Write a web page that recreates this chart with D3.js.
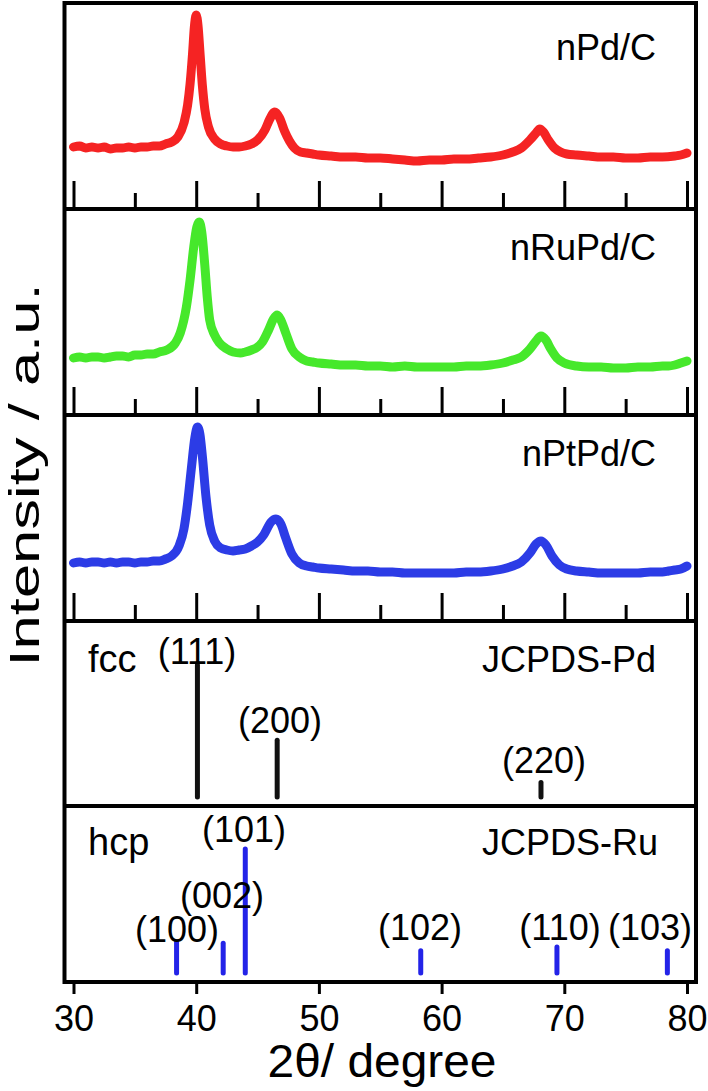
<!DOCTYPE html>
<html>
<head>
<meta charset="utf-8">
<script src="https://cdn.jsdelivr.net/npm/d3@7"></script>
<style>
  html, body { margin: 0; padding: 0; background: #fff; }
  text { font-family: "Liberation Sans", Arial, sans-serif; fill: #000; }
</style>
</head>
<body>
<svg id="chart" width="708" height="1091"></svg>
<script>
// measured XRD patterns, [2theta, intensity a.u.]
const nPdC = [
  [30,62],[30.5,63],[31,61],[31.5,62],[32,61],[32.5,62],[33,60],[33.5,61],[34,61],[34.5,62],
  [35,61],[35.5,62],[36,62],[36.5,63],[37,63],[37.5,65],[38,67],[38.5,72],[39,86],[39.3,104],
  [39.5,125],[39.7,155],[39.85,182],[40,194],[40.15,183],[40.3,158],[40.5,124],[40.7,100],[41,82],
  [41.5,70],[42,65],[42.5,63],[43,62],[43.5,62],[44,63],[44.5,65],[45,69],[45.6,79],[46,90],
  [46.4,97],[46.8,91],[47.2,78],[47.6,68],[48,61],[48.5,57],[49,56],[49.5,55],[50,54],[51,53],
  [52,52],[53,52],[54,51],[55,51],[56,50],[57,49],[58,48],[59,49],[60,49],[61,50],[62,50],
  [63,51],[64,52],[65,54],[65.8,57],[66.5,61],[67.2,69],[67.7,76],[68,80],[68.3,77],[68.7,69],
  [69.2,61],[69.7,57],[70.2,55],[71,54],[72,53],[73,52],[74,52],[75,51],[76,51],[77,52],
  [78,52],[79,53],[79.5,54],[80,56]
];
const nRuPdC = [
  [30,57],[30.5,58],[31,57],[31.5,58],[32,58],[32.5,57],[33,58],[33.5,59],[34,59],[34.5,58],
  [35,60],[35.5,60],[36,61],[36.5,61],[37,63],[37.6,65],[38.3,72],[38.7,82],[39.2,108],[39.5,135],
  [39.8,168],[40.05,188],[40.25,193],[40.45,183],[40.7,150],[40.9,118],[41.1,95],[41.5,80],[41.9,72],
  [42.5,66],[43,63],[43.6,62],[44,63],[44.5,65],[45,68],[45.4,73],[45.9,85],[46.3,96],[46.6,100],
  [46.9,95],[47.3,82],[47.8,66],[48.4,58],[49,54],[49.5,53],[50,52],[51,51],[52,50],[53,50],
  [54,49],[55,49],[56,48],[57,49],[58,48],[59,48],[60,48],[61,48],[62,49],[63,49],[64,50],
  [65,52],[65.8,55],[66.5,58],[67.2,66],[67.7,74],[68.1,79],[68.5,75],[68.9,66],[69.4,57],[70,52],
  [71,49],[72,48],[73,48],[74,47],[75,47],[76,48],[77,48],[78,49],[78.5,49],[79,50],
  [79.5,52],[80,54]
];
const nPtPdC = [
  [30,58],[30.5,59],[31,58],[31.5,59],[32,59],[32.5,58],[33,59],[33.5,58],[34,59],[34.5,59],
  [35,58],[35.5,59],[36,59],[36.5,60],[37,60],[37.5,62],[38,65],[38.6,75],[39,92],[39.3,118],
  [39.6,152],[39.9,184],[40.1,194],[40.3,187],[40.5,165],[40.8,124],[41.1,96],[41.5,80],[42,73],
  [42.5,71],[43,70],[43.5,71],[44,72],[44.5,75],[45,79],[45.5,86],[46.1,99],[46.5,102],[46.9,97],
  [47.3,83],[47.8,67],[48.4,58],[49,55],[49.5,54],[50,53],[51,52],[52,51],[53,50],[54,50],
  [55,49],[56,49],[57,48],[58,48],[59,48],[60,48],[61,48],[62,49],[63,49],[64,50],
  [65,52],[65.8,55],[66.5,59],[67.2,68],[67.7,77],[68.1,80],[68.5,76],[69,65],[69.6,56],[70.2,52],
  [71,50],[72,49],[73,48],[74,48],[75,48],[76,48],[77,49],[78,49],[78.5,50],[79,51],
  [79.5,52],[80,55]
];

// reference cards
const pdPeaks = [40.1, 46.6, 68.1];
const pdIntensity = [100, 43, 11];
const pdLabels = ["(111)", "(200)", "(220)"];

const ruPeaks = [38.4, 42.2, 44.0, 58.3, 69.4, 78.4];
const ruIntensity = [25, 24, 100, 18, 21, 18];
const ruLabels = ["(100)", "(002)", "(101)", "(102)", "(110)", "(103)"];

const seriesNames = ["nPd/C", "nRuPd/C", "nPtPd/C"];
const xTicks = [30, 40, 50, 60, 70, 80];
const xMinorTicks = [35, 45, 55, 65, 75];

const svg = d3.select("#chart");
const FONT = 36;

const LEFT = 64.5, RIGHT = 696;
const bounds = [3, 209, 415, 621, 806, 982];

const x = d3.scaleLinear().domain([30, 80]).range([73.5, 687]);

svg.append("rect").attr("width", 708).attr("height", 1091).attr("fill", "#fff");

// XRD traces
const traces = [
  { data: nPdC, color: "#f52323", top: bounds[0], bottom: bounds[1], labelY: 60 },
  { data: nRuPdC, color: "#46e82b", top: bounds[1], bottom: bounds[2], labelY: 260 },
  { data: nPtPdC, color: "#2c3ce6", top: bounds[2], bottom: bounds[3], labelY: 466 }
];

traces.forEach((t, i) => {
  const y = d3.scaleLinear().domain([0, 206]).range([t.bottom, t.top]);
  const line = d3.line()
    .x(d => x(d[0]))
    .y(d => y(d[1]))
    .curve(d3.curveMonotoneX);

  svg.append("path")
    .datum(t.data)
    .attr("d", line)
    .attr("fill", "none")
    .attr("stroke", t.color)
    .attr("stroke-width", 9)
    .attr("stroke-linejoin", "round")
    .attr("stroke-linecap", "round");

  svg.append("text")
    .attr("x", 656)
    .attr("y", t.labelY)
    .attr("text-anchor", "end")
    .attr("font-size", FONT)
    .text(seriesNames[i]);

  // inner ticks along each trace panel
  const major = d3.axisBottom(x).tickValues(xTicks).tickSize(-28).tickFormat("");
  const minor = d3.axisBottom(x).tickValues(xMinorTicks).tickSize(-16).tickFormat("");
  [major, minor].forEach(ax => {
    const g = svg.append("g")
      .attr("transform", `translate(0,${t.bottom})`)
      .call(ax);
    g.select(".domain").remove();
    g.selectAll(".tick line").attr("stroke", "#000").attr("stroke-width", 3);
  });
});

// stick patterns
function sticks(peaks, vals, color, base, top) {
  const y = d3.scaleLinear().domain([0, 100]).range([base, top]);
  svg.append("g")
    .selectAll("line")
    .data(peaks)
    .enter()
    .append("line")
    .attr("x1", d => x(d))
    .attr("x2", d => x(d))
    .attr("y1", y(0))
    .attr("y2", (d, i) => y(vals[i]))
    .attr("stroke", color)
    .attr("stroke-width", 5)
    .attr("stroke-linecap", "round");
}

sticks(pdPeaks, pdIntensity, "#111", 797, 665);
sticks(ruPeaks, ruIntensity, "#2323e8", 973, 849);

// stick labels
const pdLabelPos = [[197, 664], [280, 733], [544, 773]];
const ruLabelPos = [[177, 942], [222, 908], [244, 842], [420, 940], [560, 940], [650, 940]];

function labels(texts, pos) {
  svg.append("g")
    .selectAll("text")
    .data(texts)
    .enter()
    .append("text")
    .attr("x", (d, i) => pos[i][0])
    .attr("y", (d, i) => pos[i][1])
    .attr("text-anchor", "middle")
    .attr("font-size", FONT)
    .text(d => d);
}
labels(pdLabels, pdLabelPos);
labels(ruLabels, ruLabelPos);

svg.append("text").attr("x", 88).attr("y", 672).attr("font-size", 38).text("fcc");
svg.append("text").attr("x", 482).attr("y", 672).attr("font-size", FONT).text("JCPDS-Pd");
svg.append("text").attr("x", 88).attr("y", 855).attr("font-size", 38).text("hcp");
svg.append("text").attr("x", 482).attr("y", 855).attr("font-size", FONT).text("JCPDS-Ru");

// frame and panel separators
svg.append("rect")
  .attr("x", LEFT).attr("y", bounds[0])
  .attr("width", RIGHT - LEFT).attr("height", bounds[5] - bounds[0])
  .attr("fill", "none").attr("stroke", "#000").attr("stroke-width", 4);

svg.append("g")
  .selectAll("line")
  .data(bounds.slice(1, 5))
  .enter()
  .append("line")
  .attr("x1", LEFT).attr("x2", RIGHT)
  .attr("y1", d => d).attr("y2", d => d)
  .attr("stroke", "#000").attr("stroke-width", 4);

// bottom axis
const xAxis = svg.append("g")
  .attr("transform", `translate(0,${bounds[5] + 2})`)
  .call(d3.axisBottom(x).tickValues(xTicks).tickSize(10).tickPadding(10));
xAxis.select(".domain").remove();
xAxis.selectAll(".tick line").attr("stroke", "#000").attr("stroke-width", 3);
xAxis.selectAll(".tick text")
  .attr("font-size", FONT)
  .attr("font-family", '"Liberation Sans", Arial, sans-serif')
  .attr("fill", "#000")
  .attr("dy", null)
  .attr("y", 47);

svg.append("text")
  .attr("x", 382)
  .attr("y", 1077)
  .attr("text-anchor", "middle")
  .attr("font-size", 46)
  .attr("textLength", 229)
  .attr("lengthAdjust", "spacingAndGlyphs")
  .text("2θ/ degree");

svg.append("text")
  .attr("transform", "translate(39,475) rotate(-90)")
  .attr("text-anchor", "middle")
  .attr("font-size", 43)
  .attr("textLength", 383)
  .attr("lengthAdjust", "spacingAndGlyphs")
  .text("Intensity / a.u.");
</script>
</body>
</html>
